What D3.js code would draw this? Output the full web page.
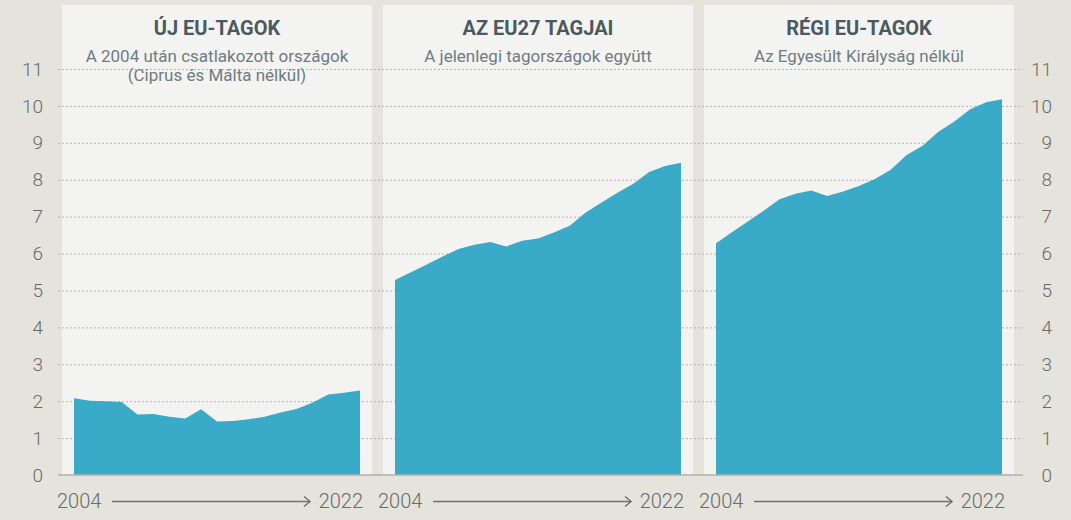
<!DOCTYPE html>
<html>
<head>
<meta charset="utf-8">
<script src="https://cdn.jsdelivr.net/npm/d3@7"></script>
<style>
  html, body { margin: 0; padding: 0; background: #e4e4dd; }
  svg { display: block; }
</style>
</head>
<body>
<svg id="chart" width="1071" height="520"></svg>
<script>
// ---- data ----
const years = [2004, 2005, 2006, 2007, 2008, 2009, 2010, 2011, 2012, 2013,
               2014, 2015, 2016, 2017, 2018, 2019, 2020, 2021, 2022];
const newMembers = [2.08, 2.01, 2.00, 1.98, 1.64, 1.65, 1.58, 1.53, 1.78, 1.45,
                    1.46, 1.51, 1.58, 1.69, 1.79, 1.96, 2.18, 2.23, 2.29];
const eu27 = [5.28, 5.49, 5.70, 5.92, 6.12, 6.24, 6.31, 6.19, 6.35, 6.41,
              6.57, 6.75, 7.11, 7.38, 7.65, 7.89, 8.21, 8.37, 8.46];
const oldMembers = [6.28, 6.58, 6.87, 7.16, 7.47, 7.62, 7.71, 7.56, 7.68, 7.83,
                    8.02, 8.27, 8.67, 8.92, 9.30, 9.58, 9.91, 10.10, 10.18];
const panelTitles = ["ÚJ EU-TAGOK", "AZ EU27 TAGJAI", "RÉGI EU-TAGOK"];
const panelSubtitles = [
  ["A 2004 után csatlakozott országok", "(Ciprus és Málta nélkül)"],
  ["A jelenlegi tagországok együtt"],
  ["Az Egyesült Királyság nélkül"]
];
const yTicks = [0, 1, 2, 3, 4, 5, 6, 7, 8, 9, 10, 11];
const startLabel = "2004";
const endLabel = "2022";

// ---- layout ----
const svg = d3.select("#chart");
const W = 1071, H = 520;
const baseY = 475, topY = 69;
const panelTop = 5, panelW = 310, inset = 12;
const panelXs = [62, 383, 704];
const gridL = 58, gridR = 1023;
const areaColor = "#39aac8";
const font = "Roboto, 'Open Sans', sans-serif";

const y = d3.scaleLinear().domain([0, 11]).range([baseY, topY]);
const series = [newMembers, eu27, oldMembers];

svg.append("rect").attr("width", W).attr("height", H).attr("fill", "#e4e4dd");

// panels
panelXs.forEach(px => {
  svg.append("rect")
    .attr("x", px).attr("y", panelTop)
    .attr("width", panelW).attr("height", baseY - panelTop)
    .attr("fill", "#f3f3f1");
});

// gridlines
const grid = svg.append("g").attr("transform", `translate(${gridL},0)`)
  .call(d3.axisRight(y).tickValues(yTicks.filter(t => t > 0))
        .tickSize(gridR - gridL).tickFormat(""));
grid.select(".domain").remove();
grid.selectAll("line").attr("stroke", "#b5b5b0").attr("stroke-width", 1)
  .attr("stroke-dasharray", "2,2");

// areas
series.forEach((data, i) => {
  const px = panelXs[i];
  const x = d3.scaleLinear().domain([years[0], years[years.length - 1]])
    .range([px + inset, px + panelW - inset]);
  const area = d3.area()
    .x((d, j) => x(years[j]))
    .y0(y(0))
    .y1(d => y(d));
  svg.append("path").datum(data).attr("d", area).attr("fill", areaColor);

  // titles
  const cx = px + panelW / 2;
  svg.append("text").attr("x", cx).attr("y", 35)
    .attr("text-anchor", "middle")
    .attr("font-family", font).attr("font-weight", 700).attr("font-size", 20)
    .attr("fill", "#4b5a60").text(panelTitles[i]);
  panelSubtitles[i].forEach((s, k) => {
    svg.append("text").attr("x", cx).attr("y", 62 + k * 19)
      .attr("text-anchor", "middle")
      .attr("font-family", font).attr("font-size", 17)
      .attr("fill", "#6f7c82").text(s);
  });

  // bottom labels and arrow
  const ly = 508;
  svg.append("text").attr("x", px - 5).attr("y", ly)
    .attr("font-family", font).attr("font-weight", 300).attr("font-size", 20)
    .attr("fill", "#6a6a6a").text(startLabel);
  svg.append("text").attr("x", px + panelW - 9).attr("y", ly)
    .attr("text-anchor", "end")
    .attr("font-family", font).attr("font-weight", 300).attr("font-size", 20)
    .attr("fill", "#6a6a6a").text(endLabel);
  const ax0 = px + 50, ax1 = px + 248, ay = 501.5;
  svg.append("line").attr("x1", ax0).attr("x2", ax1).attr("y1", ay).attr("y2", ay)
    .attr("stroke", "#707070").attr("stroke-width", 1.5);
  svg.append("path")
    .attr("d", `M${ax1 - 6},${ay - 5} L${ax1},${ay} L${ax1 - 6},${ay + 5}`)
    .attr("fill", "none").attr("stroke", "#707070").attr("stroke-width", 1.5);
});

// baseline
svg.append("line").attr("x1", gridL).attr("x2", gridR)
  .attr("y1", y(0)).attr("y2", y(0))
  .attr("stroke", "#b0b0aa").attr("stroke-width", 1.5);

// y axes
function styleAxis(g) {
  g.select(".domain").remove();
  g.selectAll("line").remove();
  g.selectAll("text").attr("font-family", font).attr("font-weight", 300)
    .attr("font-size", 19).attr("fill", "#6a6a6a");
}
svg.append("g").attr("transform", "translate(43,0)")
  .call(d3.axisLeft(y).tickValues(yTicks).tickSize(0).tickPadding(0))
  .call(styleAxis);
svg.append("g").attr("transform", "translate(1052,0)")
  .call(d3.axisLeft(y).tickValues(yTicks).tickSize(0).tickPadding(0))
  .call(styleAxis);
</script>
</body>
</html>
